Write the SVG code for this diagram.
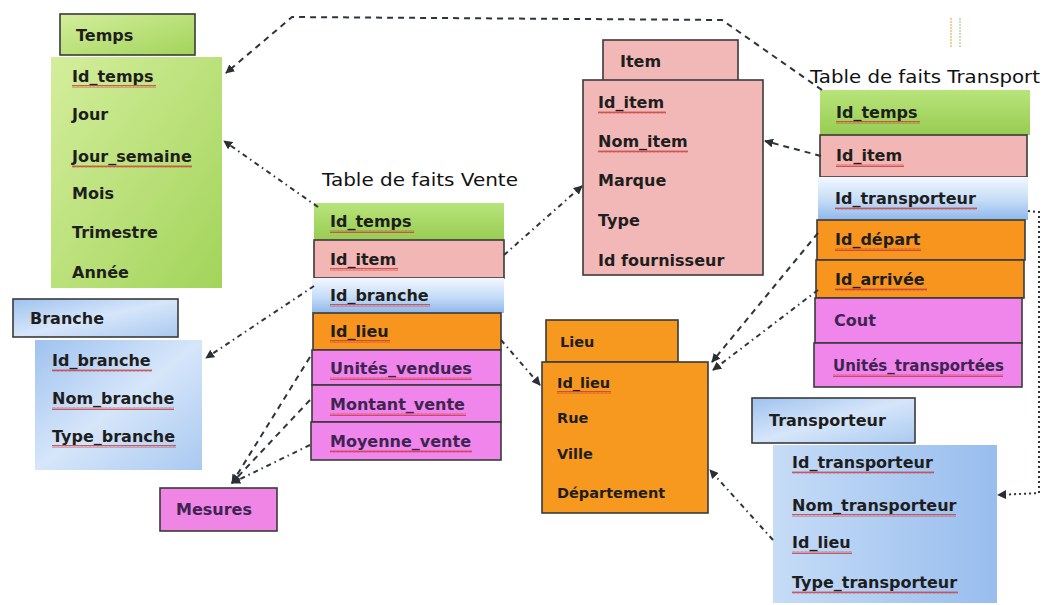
<svg xmlns="http://www.w3.org/2000/svg" width="1048" height="605" viewBox="0 0 1048 605">
  <style>
    text { font-family: "DejaVu Sans", "Liberation Sans", sans-serif; font-weight: bold; font-size: 16px; fill: #1e1e1e; }
    .small { font-size: 14.5px; }
    .tiny { font-size: 15px; }
    .cap { font-weight: normal; font-size: 17px; fill: #111; }
    .mauve { fill: #3e2450; }
    .box { stroke: #3a3a3a; stroke-width: 1.6; }
    .soft { stroke: none; }
    .link { fill: none; stroke: #2e3538; stroke-width: 2; marker-end: url(#arrow); }
    .dash { stroke-dasharray: 6 5; }
    .dashdot { stroke-dasharray: 5 4 1.5 4; }
    .dot { stroke-dasharray: 2 3; }
    .wave { fill: url(#wavy); }
  </style>
  <defs>
    <marker id="arrow" viewBox="0 0 10 10" refX="9" refY="5" markerWidth="9" markerHeight="9" markerUnits="userSpaceOnUse" orient="auto">
      <path d="M0,0 L10,5 L0,10 z" fill="#2a2f33"/>
    </marker>
    <pattern id="wavy" width="4" height="3" patternUnits="userSpaceOnUse">
      <path d="M0,2.5 L1,0.5 L2,2.5 L3,0.5 L4,2.5" fill="none" stroke="#c83a3a" stroke-width="0.8"/>
    </pattern>
    <linearGradient id="green" x1="0" y1="0" x2="1" y2="1">
      <stop offset="0" stop-color="#d4ee9c"/>
      <stop offset="1" stop-color="#a2d45a"/>
    </linearGradient>
    <linearGradient id="greenRow" x1="0" y1="0" x2="0" y2="1">
      <stop offset="0" stop-color="#b8e47a"/>
      <stop offset="1" stop-color="#98cc52"/>
    </linearGradient>
    <linearGradient id="blue" x1="0" y1="0" x2="1" y2="1">
      <stop offset="0" stop-color="#9fc2ef"/>
      <stop offset="0.5" stop-color="#d6e6fa"/>
      <stop offset="1" stop-color="#a9c9f0"/>
    </linearGradient>
    <linearGradient id="blueRow" x1="0" y1="0" x2="0" y2="1">
      <stop offset="0" stop-color="#f2f8ff"/>
      <stop offset="0.55" stop-color="#c4dcf6"/>
      <stop offset="1" stop-color="#8fb7ea"/>
    </linearGradient>
    <linearGradient id="blueBody" x1="0" y1="0" x2="1" y2="0">
      <stop offset="0" stop-color="#c6dcf7"/>
      <stop offset="1" stop-color="#98bdee"/>
    </linearGradient>
  </defs>

  <!-- faint marks top right -->
  <line x1="951" y1="18" x2="951" y2="48" stroke="#f0c070" stroke-width="1.5" stroke-dasharray="2 1"/>
  <line x1="960" y1="18" x2="960" y2="48" stroke="#b8d8a0" stroke-width="1.5" stroke-dasharray="2 1"/>

  <!-- Temps dimension -->
  <g id="temps">
    <rect x="51" y="57" width="171" height="231" fill="url(#green)" class="soft"/>
    <rect x="60" y="14" width="135" height="41" fill="url(#green)" class="box"/>
    <text x="76" y="41">Temps</text>
    <text x="72" y="82">Id_temps</text>
    <rect x="72" y="85" width="84" height="3" class="wave"/>
    <text x="72" y="120">Jour</text>
    <text x="72" y="162">Jour_semaine</text>
    <rect x="72" y="165" width="120" height="3" class="wave"/>
    <text x="72" y="199">Mois</text>
    <text x="72" y="238">Trimestre</text>
    <text x="72" y="278">Année</text>
  </g>

  <!-- Branche dimension -->
  <g id="branche">
    <rect x="35" y="340" width="167" height="130" fill="url(#blue)" class="soft"/>
    <rect x="13" y="299" width="165" height="38" fill="url(#blue)" class="box"/>
    <text x="30" y="324">Branche</text>
    <text x="52" y="366">Id_branche</text>
    <rect x="52" y="369" width="100" height="3" class="wave"/>
    <text x="52" y="404">Nom_branche</text>
    <rect x="52" y="407" width="122" height="3" class="wave"/>
    <text x="52" y="442">Type_branche</text>
    <rect x="52" y="445" width="124" height="3" class="wave"/>
  </g>

  <!-- Mesures -->
  <g id="mesures">
    <rect x="160" y="488" width="117" height="43" fill="#ef86e6" class="box"/>
    <text x="176" y="515" class="mauve">Mesures</text>
  </g>

  <!-- Fact table: Vente -->
  <g id="vente">
    <text x="322" y="186" class="cap" textLength="196" lengthAdjust="spacingAndGlyphs">Table de faits Vente</text>
    <rect x="314" y="203" width="190" height="37" fill="url(#greenRow)" class="soft"/>
    <rect x="314" y="240" width="190" height="38" fill="#f2b6b4" class="box"/>
    <rect x="312" y="278" width="192" height="35" fill="url(#blueRow)" class="soft"/>
    <rect x="313" y="313" width="188" height="37" fill="#f7951f" class="box"/>
    <rect x="312" y="350" width="189" height="35" fill="#f086ec" class="box"/>
    <rect x="312" y="385" width="189" height="37" fill="#f086ec" class="box"/>
    <rect x="311" y="422" width="190" height="38" fill="#f086ec" class="box"/>
    <text x="330" y="227">Id_temps</text>
    <rect x="330" y="230" width="84" height="3" class="wave"/>
    <text x="330" y="265">Id_item</text>
    <rect x="330" y="268" width="68" height="3" class="wave"/>
    <text x="330" y="301">Id_branche</text>
    <rect x="330" y="304" width="100" height="3" class="wave"/>
    <text x="330" y="337">Id_lieu</text>
    <rect x="330" y="340" width="60" height="3" class="wave"/>
    <text x="330" y="374" class="mauve">Unités_vendues</text>
    <rect x="330" y="377" width="142" height="3" class="wave"/>
    <text x="330" y="410" class="mauve">Montant_vente</text>
    <rect x="330" y="413" width="136" height="3" class="wave"/>
    <text x="330" y="447" class="mauve">Moyenne_vente</text>
    <rect x="330" y="450" width="142" height="3" class="wave"/>
  </g>

  <!-- Item dimension -->
  <g id="item">
    <rect x="603" y="40" width="135" height="42" fill="#f2b8b8" class="box"/>
    <text x="620" y="67">Item</text>
    <rect x="583" y="80" width="180" height="195" fill="#f2b8b8" class="box"/>
    <text x="598" y="108">Id_item</text>
    <rect x="598" y="111" width="68" height="3" class="wave"/>
    <text x="598" y="147">Nom_item</text>
    <rect x="598" y="150" width="90" height="3" class="wave"/>
    <text x="598" y="186">Marque</text>
    <text x="598" y="226">Type</text>
    <text x="598" y="266">Id fournisseur</text>
  </g>

  <!-- Fact table: Transport -->
  <g id="transport">
    <text x="810" y="83" class="cap" textLength="230" lengthAdjust="spacingAndGlyphs">Table de faits Transport</text>
    <rect x="820" y="90" width="210" height="45" fill="url(#greenRow)" class="soft"/>
    <rect x="820" y="135" width="207" height="42" fill="#f2b6b4" class="box"/>
    <rect x="818" y="177" width="210" height="43" fill="url(#blueRow)" class="soft"/>
    <rect x="817" y="220" width="208" height="40" fill="#f7951f" class="box"/>
    <rect x="816" y="260" width="208" height="38" fill="#f7951f" class="box"/>
    <rect x="815" y="298" width="207" height="45" fill="#f086ec" class="box"/>
    <rect x="814" y="343" width="208" height="44" fill="#f086ec" class="box"/>
    <text x="836" y="118">Id_temps</text>
    <rect x="836" y="121" width="84" height="3" class="wave"/>
    <text x="836" y="161">Id_item</text>
    <rect x="836" y="164" width="68" height="3" class="wave"/>
    <text x="835" y="204">Id_transporteur</text>
    <rect x="835" y="207" width="142" height="3" class="wave"/>
    <text x="835" y="245">Id_départ</text>
    <rect x="835" y="248" width="86" height="3" class="wave"/>
    <text x="835" y="285">Id_arrivée</text>
    <rect x="835" y="288" width="92" height="3" class="wave"/>
    <text x="834" y="326" class="mauve">Cout</text>
    <text x="833" y="371" class="tiny mauve">Unités_transportées</text>
    <rect x="833" y="374" width="170" height="3" class="wave"/>
  </g>

  <!-- Lieu dimension -->
  <g id="lieu">
    <rect x="546" y="320" width="132" height="42" fill="#f7981f" class="box"/>
    <text x="560" y="347" class="small">Lieu</text>
    <rect x="542" y="362" width="166" height="151" fill="#f7981f" class="box"/>
    <text x="557" y="388" class="small">Id_lieu</text>
    <rect x="557" y="391" width="54" height="3" class="wave"/>
    <text x="557" y="423" class="small">Rue</text>
    <text x="557" y="459" class="small">Ville</text>
    <text x="557" y="498" class="small">Département</text>
  </g>

  <!-- Transporteur dimension -->
  <g id="transporteur">
    <rect x="773" y="445" width="224" height="158" fill="url(#blueBody)" class="soft"/>
    <rect x="752" y="398" width="163" height="45" fill="url(#blue)" class="box"/>
    <text x="769" y="426">Transporteur</text>
    <text x="792" y="468">Id_transporteur</text>
    <rect x="792" y="471" width="142" height="3" class="wave"/>
    <text x="792" y="511">Nom_transporteur</text>
    <rect x="792" y="514" width="164" height="3" class="wave"/>
    <text x="792" y="548">Id_lieu</text>
    <rect x="792" y="551" width="60" height="3" class="wave"/>
    <text x="792" y="588">Type_transporteur</text>
    <rect x="792" y="591" width="166" height="3" class="wave"/>
  </g>

  <!-- Connectors: fact-table keys to dimensions -->
  <g id="connectors">
    <path class="link dash" d="M822,90 L722,20 L292,17 L226,73"/>
    <path class="link dashdot" d="M318,207 L224,141"/>
    <path class="link dashdot" d="M504,255 L582,186"/>
    <path class="link dashdot" d="M314,286 L206,358"/>
    <path class="link dashdot" d="M501,340 L540,385"/>
    <path class="link dash" d="M310,357 L232,483"/>
    <path class="link dash" d="M310,400 L232,483"/>
    <path class="link dashdot" d="M310,445 L232,483"/>
    <path class="link dash" d="M821,156 L765,141"/>
    <path class="link dash" d="M818,233 L712,362"/>
    <path class="link dashdot" d="M818,290 L713,370"/>
    <path class="link dot" d="M1028,211 L1039,212 L1039,493 L998,495"/>
    <path class="link dashdot" d="M773,540 L710,470"/>
  </g>
</svg>
